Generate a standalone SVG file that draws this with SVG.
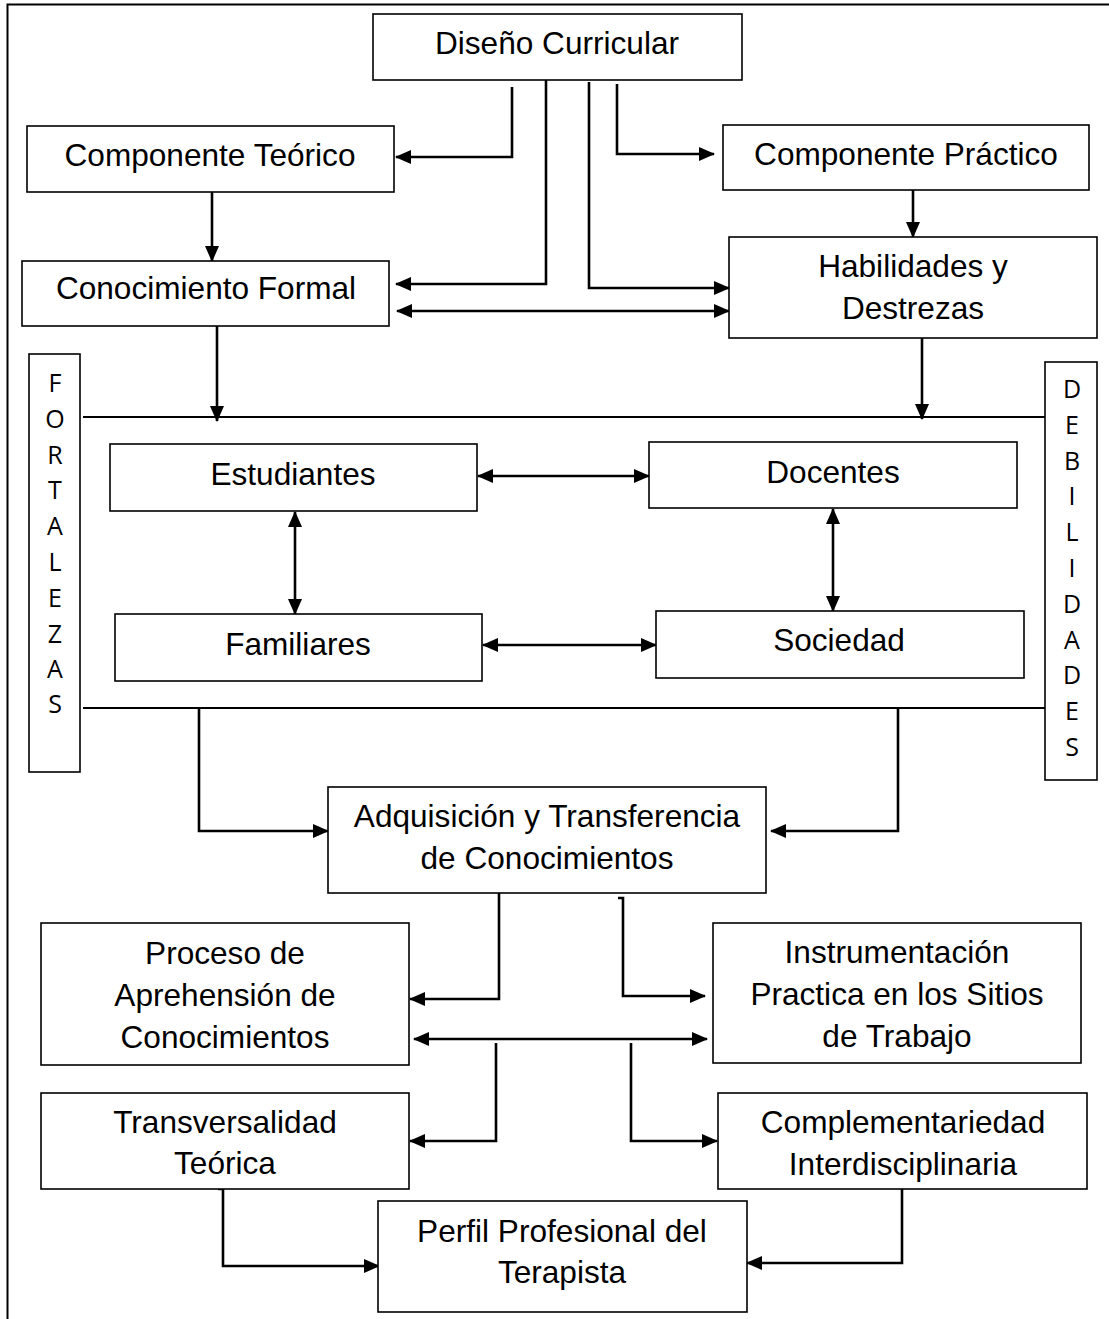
<svg xmlns="http://www.w3.org/2000/svg" width="1109" height="1319" viewBox="0 0 1109 1319">
<style>
.box{fill:#fff;stroke:#000;stroke-width:1.6}
.t{font-family:"Liberation Sans",Arial,sans-serif;font-size:31.6px;fill:#000;text-anchor:middle}
.v{font-family:"Open Sans","Noto Sans",sans-serif;font-size:25px;fill:#000;text-anchor:middle}
.c{fill:none;stroke:#000;stroke-width:2.6}
.c1{marker-end:url(#ah)}
.c2{marker-start:url(#ah);marker-end:url(#ah)}
.ln{fill:none;stroke:#000;stroke-width:2}
</style>
<defs>
<marker id="ah" markerUnits="userSpaceOnUse" markerWidth="16" markerHeight="14" refX="15" refY="7" orient="auto-start-reverse" viewBox="0 0 16 14">
<path d="M0,0 L16,7 L0,14 z" fill="#000"/>
</marker>
</defs>
<rect width="1109" height="1319" fill="#fff"/>
<g id="frame"><path d="M7.5,1319 V4.5 H1109" class="ln" stroke-width="1.6"/></g>

<g id="connectors">
<path class="c c1" d="M512,87 V157 H396"/>
<path class="c c1" d="M546,80 V284 H396"/>
<path class="c c1" d="M589,82 V288 H729"/>
<path class="c c1" d="M617,84 V154 H714"/>
<path class="c c2" d="M397,311 H729"/>
<path class="c c1" d="M212,192 V261"/>
<path class="c c1" d="M913,190 V237"/>
<path class="c c1" d="M217,326 V421"/>
<path class="c c1" d="M922,338 V419"/>
<path class="ln" d="M83,417 H1046"/>
<path class="ln" d="M83,708 H1049"/>
<path class="c c2" d="M478,476 H649"/>
<path class="c c2" d="M483,645 H656"/>
<path class="c c2" d="M295,512 V614"/>
<path class="c c2" d="M833,509 V611"/>
<path class="c c1" d="M199,708 V831 H328"/>
<path class="c c1" d="M898,708 V831 H771"/>
<path class="c c1" d="M499,893 V999 H410"/>
<path class="c c1" d="M618,898 H623 V996 H705"/>
<path class="c c2" d="M414,1039 H707"/>
<path class="c c1" d="M496,1043 V1141 H410"/>
<path class="c c1" d="M631,1043 V1141 H717"/>
<path class="c c1" d="M218,1189 H223 V1266 H379"/>
<path class="c c1" d="M902,1189 V1263 H747"/>
</g>

<g id="diseno"><rect class="box" x="373" y="14" width="369" height="66"/><text class="t" x="557" y="54">Diseño Curricular</text></g>
<g id="teorico"><rect class="box" x="27" y="126" width="367" height="66"/><text class="t" x="210" y="166">Componente Teórico</text></g>
<g id="practico"><rect class="box" x="723" y="125" width="366" height="65"/><text class="t" x="906" y="165">Componente Práctico</text></g>
<g id="formal"><rect class="box" x="22" y="261" width="367" height="65"/><text class="t" x="206" y="299">Conocimiento Formal</text></g>
<g id="habilidades"><rect class="box" x="729" y="237" width="368" height="101"/><text class="t" x="913" y="277">Habilidades y</text><text class="t" x="913" y="319">Destrezas</text></g>

<g id="fortalezas"><rect class="box" x="29" y="354" width="51" height="418"/>
<text class="v" x="55" y="392">F</text><text class="v" x="55" y="428">O</text><text class="v" x="55" y="464">R</text><text class="v" x="55" y="499">T</text><text class="v" x="55" y="535">A</text><text class="v" x="55" y="571">L</text><text class="v" x="55" y="607">E</text><text class="v" x="55" y="643">Z</text><text class="v" x="55" y="678">A</text><text class="v" x="55" y="713">S</text>
</g>
<g id="debilidades"><rect class="box" x="1045" y="362" width="52" height="418"/>
<text class="v" x="1072" y="398">D</text><text class="v" x="1072" y="434">E</text><text class="v" x="1072" y="470">B</text><text class="v" x="1072" y="505">I</text><text class="v" x="1072" y="541">L</text><text class="v" x="1072" y="577">I</text><text class="v" x="1072" y="613">D</text><text class="v" x="1072" y="649">A</text><text class="v" x="1072" y="684">D</text><text class="v" x="1072" y="720">E</text><text class="v" x="1072" y="756">S</text>
</g>

<g id="estudiantes"><rect class="box" x="110" y="444" width="367" height="67"/><text class="t" x="293" y="485">Estudiantes</text></g>
<g id="docentes"><rect class="box" x="649" y="442" width="368" height="66"/><text class="t" x="833" y="483">Docentes</text></g>
<g id="familiares"><rect class="box" x="115" y="614" width="367" height="67"/><text class="t" x="298" y="655">Familiares</text></g>
<g id="sociedad"><rect class="box" x="656" y="611" width="368" height="67"/><text class="t" x="839" y="651">Sociedad</text></g>

<g id="adquisicion"><rect class="box" x="328" y="787" width="438" height="106"/><text class="t" x="547" y="827">Adquisición y Transferencia</text><text class="t" x="547" y="869">de Conocimientos</text></g>
<g id="proceso"><rect class="box" x="41" y="923" width="368" height="142"/><text class="t" x="225" y="964">Proceso de</text><text class="t" x="225" y="1006">Aprehensión de</text><text class="t" x="225" y="1048">Conocimientos</text></g>
<g id="instrumentacion"><rect class="box" x="713" y="923" width="368" height="140"/><text class="t" x="897" y="963">Instrumentación</text><text class="t" x="897" y="1005">Practica en los Sitios</text><text class="t" x="897" y="1047">de Trabajo</text></g>
<g id="transversalidad"><rect class="box" x="41" y="1093" width="368" height="96"/><text class="t" x="225" y="1133">Transversalidad</text><text class="t" x="225" y="1174">Teórica</text></g>
<g id="complementariedad"><rect class="box" x="718" y="1093" width="369" height="96"/><text class="t" x="903" y="1133">Complementariedad</text><text class="t" x="903" y="1175">Interdisciplinaria</text></g>
<g id="perfil"><rect class="box" x="378" y="1201" width="369" height="111"/><text class="t" x="562" y="1242">Perfil Profesional del</text><text class="t" x="562" y="1283">Terapista</text></g>
</svg>
